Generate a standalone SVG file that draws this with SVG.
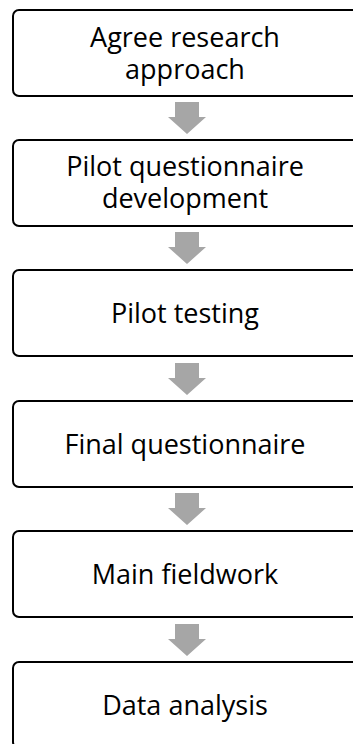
<svg xmlns="http://www.w3.org/2000/svg" width="353" height="744" viewBox="0 0 353 744">
<style>
.box{fill:#ffffff;stroke:#000000;stroke-width:2}
.lbl{font-family:"Open Sans","Noto Sans",sans-serif;font-size:27px;fill:#000000;text-anchor:middle;font-variant-ligatures:none}
.arr{fill:#a6a6a6}
</style>
<rect x="0" y="0" width="353" height="744" fill="#ffffff"/>
<g id="connectors">
<polygon class="arr" points="175,102 199,102 199,117 206,117 187,134 168,117 175,117"/>
<polygon class="arr" points="175,232 199,232 199,247 206,247 187,264 168,247 175,247"/>
<polygon class="arr" points="175,363 199,363 199,378 206,378 187,395 168,378 175,378"/>
<polygon class="arr" points="175,493 199,493 199,508 206,508 187,525 168,508 175,508"/>
<polygon class="arr" points="175,624 199,624 199,639 206,639 187,656 168,639 175,639"/>
</g>
<g id="n1"><rect class="box" x="13" y="10" width="350" height="86" rx="6"/><text class="lbl" x="185" y="47">Agree research</text><text class="lbl" x="185" y="79">approach</text></g>
<g id="n2"><rect class="box" x="13" y="140" width="350" height="86" rx="6"/><text class="lbl" x="185" y="176">Pilot questionnaire</text><text class="lbl" x="185" y="208">development</text></g>
<g id="n3"><rect class="box" x="13" y="270" width="350" height="86" rx="6"/><text class="lbl" x="185" y="323">Pilot testing</text></g>
<g id="n4"><rect class="box" x="13" y="401" width="350" height="86" rx="6"/><text class="lbl" x="185" y="454">Final questionnaire</text></g>
<g id="n5"><rect class="box" x="13" y="531" width="350" height="86" rx="6"/><text class="lbl" x="185" y="584">Main fieldwork</text></g>
<g id="n6"><rect class="box" x="13" y="662" width="350" height="86" rx="6"/><text class="lbl" x="185" y="715">Data analysis</text></g>
</svg>
